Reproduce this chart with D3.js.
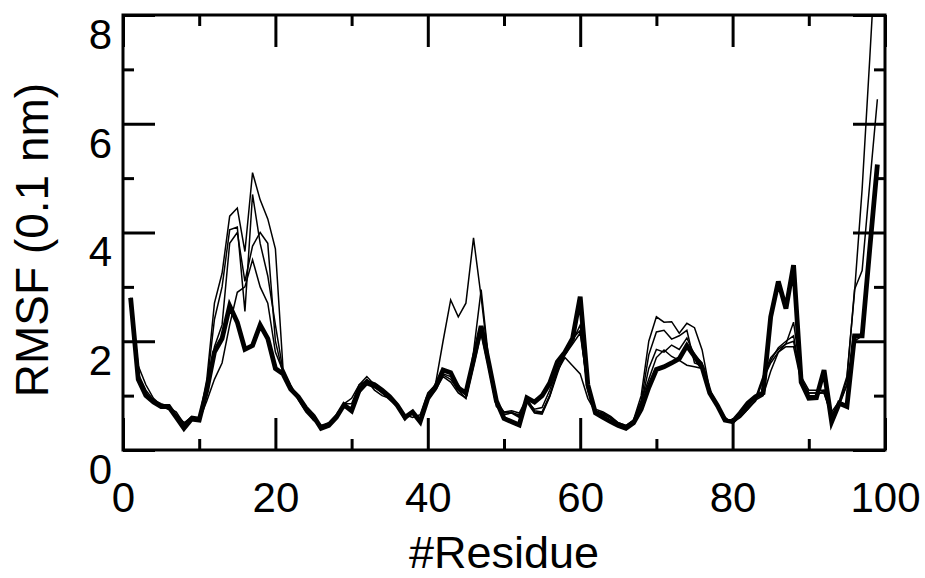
<!DOCTYPE html>
<html>
<head>
<meta charset="utf-8">
<script src="https://cdn.jsdelivr.net/npm/d3@7"></script>
<style>
  html, body { margin: 0; padding: 0; background: #fff; }
  svg { display: block; }
  text { font-family: "Liberation Sans", Arial, Helvetica, sans-serif; fill: #000; }
</style>
</head>
<body>
<svg id="chart" width="925" height="578"></svg>
<script>
// ---- data ----
const residues = d3.range(1, 100); // residue index 1..99 (category axis)

const rmsfMean = [2.8,1.3,1.0,0.88,0.8,0.8,0.6,0.4,0.57,0.55,
 1.1,1.8,2.05,2.65,2.35,1.85,1.92,2.3,2.05,1.5,
 1.4,1.12,0.98,0.77,0.62,0.4,0.45,0.6,0.83,0.72,
 1.1,1.25,1.2,1.1,0.98,0.82,0.6,0.7,0.52,0.95,
 1.15,1.47,1.42,1.14,1.05,1.65,2.28,1.6,0.9,0.58,
 0.52,0.46,0.96,0.88,1.0,1.23,1.62,1.8,2.05,2.82,
 1.2,0.68,0.6,0.52,0.45,0.4,0.5,0.75,1.15,1.48,
 1.53,1.6,1.68,1.92,1.72,1.52,1.05,0.82,0.55,0.52,
 0.68,0.86,0.98,1.05,2.45,3.1,2.6,3.4,1.25,0.95,
 0.96,1.47,0.52,0.86,0.8,2.1,2.1,3.7,5.25];

const rmsfRun1 = [2.8,1.55,1.2,0.95,0.82,0.75,0.65,0.5,0.6,0.58,
 1.3,2.7,3.25,4.3,4.45,3.65,5.1,4.6,4.25,3.7,
 1.5,1.2,0.95,0.75,0.55,0.45,0.5,0.65,0.85,0.95,
 1.2,1.35,1.2,1.05,0.95,0.8,0.65,0.6,0.65,1.05,
 1.2,2.0,2.76,2.45,2.7,3.9,2.81,1.6,0.9,0.7,
 0.72,0.68,0.95,0.72,0.7,1.0,1.45,1.7,1.55,1.4,
 0.95,0.7,0.65,0.6,0.5,0.45,0.55,1.0,2.0,2.45,
 2.35,2.36,2.15,2.33,2.25,1.84,1.1,0.85,0.55,0.55,
 0.6,0.75,0.92,1.0,1.45,1.8,1.95,2.35,1.35,1.1,
 1.1,1.1,0.7,0.9,1.35,2.9,4.8,7.2,9.7];

const rmsfRun2 = [2.75,1.35,1.05,0.9,0.8,0.78,0.7,0.48,0.62,0.6,
 1.2,2.4,3.0,4.05,4.1,2.55,4.7,3.8,3.2,2.3,
 1.45,1.15,0.95,0.72,0.6,0.45,0.47,0.62,0.8,0.78,
 1.15,1.3,1.15,1.05,0.92,0.8,0.55,0.72,0.55,1.0,
 1.2,1.4,1.35,1.2,1.0,1.8,2.95,1.65,0.85,0.68,
 0.7,0.62,0.9,0.75,0.78,1.1,1.5,1.8,2.0,2.3,
 1.1,0.72,0.68,0.6,0.48,0.42,0.5,0.9,1.75,2.17,
 2.2,2.04,2.1,2.2,1.6,1.55,1.05,0.85,0.6,0.5,
 0.62,0.78,0.9,1.3,1.65,1.88,2.0,2.1,1.3,1.05,
 1.05,1.05,0.65,0.85,1.3,2.95,3.3,4.9,6.45];

const rmsfRun3 = [2.7,1.4,1.1,0.92,0.85,0.8,0.62,0.45,0.58,0.58,
 1.1,1.9,2.3,3.8,4.0,3.1,3.75,4.0,3.8,2.0,
 1.4,1.1,1.0,0.8,0.6,0.42,0.45,0.6,0.8,0.75,
 1.05,1.2,1.15,1.1,1.0,0.85,0.6,0.68,0.5,0.92,
 1.12,1.38,1.3,1.1,0.95,1.6,2.2,1.55,0.85,0.65,
 0.68,0.6,0.92,0.7,0.68,1.0,1.45,1.75,1.95,2.15,
 1.15,0.7,0.66,0.58,0.46,0.42,0.52,0.85,1.5,1.85,
 1.8,1.93,1.85,2.06,1.75,1.6,1.1,0.8,0.58,0.52,
 0.65,0.8,0.95,1.35,1.7,1.85,1.95,2.0,1.3,1.0,
 1.0,1.1,0.6,0.85,1.2,2.05,2.15,3.65,5.15];

const rmsfRun4 = [2.75,1.3,1.05,0.9,0.8,0.75,0.65,0.5,0.55,0.55,
 0.9,1.3,1.6,2.3,2.9,3.0,3.5,3.0,2.7,1.8,
 1.45,1.15,0.92,0.7,0.55,0.43,0.5,0.65,0.85,0.85,
 1.2,1.28,1.1,1.0,0.95,0.82,0.6,0.7,0.55,0.95,
 1.1,1.35,1.25,1.05,0.95,1.55,2.15,1.5,0.8,0.7,
 0.68,0.65,0.88,0.68,0.66,0.98,1.4,1.8,2.05,2.2,
 1.1,0.75,0.7,0.62,0.5,0.45,0.55,0.9,1.3,1.7,
 1.84,1.72,1.65,1.56,1.53,1.5,1.05,0.8,0.55,0.5,
 0.6,0.75,0.9,1.3,1.6,1.8,1.9,1.9,1.25,1.05,
 1.05,1.05,0.62,0.82,1.2,2.0,2.1,3.55,5.1];

const xMajorTicks = [0, 20, 40, 60, 80, 100];
const xMinorTicks = [10, 30, 50, 70, 90];
const yMajorTicks = [0, 2, 4, 6, 8];
const yMinorTicks = [1, 3, 5, 7];
const xTitle = "#Residue";
const yTitle = "RMSF (0.1 nm)";

// ---- layout ----
const L = 123, R = 885, T = 15, B = 450;
const svg = d3.select("#chart");
const x = d3.scaleLinear().domain([0, 100]).range([L, R]);
const y = d3.scaleLinear().domain([0, 8]).range([B, T]);

svg.append("defs").append("clipPath").attr("id", "clip")
  .append("rect").attr("x", L).attr("y", T).attr("width", R - L).attr("height", B - T);

const line = d3.line().x((d, i) => x(residues[i])).y(d => y(d));

const plot = svg.append("g").attr("clip-path", "url(#clip)");
[rmsfRun1, rmsfRun2, rmsfRun3, rmsfRun4].forEach(s => {
  plot.append("path").datum(s).attr("d", line)
    .attr("fill", "none").attr("stroke", "#000").attr("stroke-width", 1.5)
    .attr("stroke-linejoin", "miter");
});
plot.append("path").datum(rmsfMean).attr("d", line)
  .attr("fill", "none").attr("stroke", "#000").attr("stroke-width", 4.8)
  .attr("stroke-linejoin", "miter");

// ---- axes ----
const FS = 42;
function styleAxis(g) {
  g.select(".domain").remove();
  g.selectAll(".tick line").attr("stroke", "#000").attr("stroke-width", 3);
}
// bottom
svg.append("g").attr("transform", `translate(0,${B})`)
  .call(d3.axisBottom(x).tickValues(xMajorTicks).tickSize(-32).tickPadding(32).tickFormat(d3.format("d")))
  .call(styleAxis)
  .call(g => g.selectAll("text").attr("font-size", FS).attr("font-family", "Liberation Sans, Arial, sans-serif"));
svg.append("g").attr("transform", `translate(0,${B})`)
  .call(d3.axisBottom(x).tickValues(xMinorTicks).tickSize(-11).tickFormat(""))
  .call(styleAxis);
// top
svg.append("g").attr("transform", `translate(0,${T})`)
  .call(d3.axisTop(x).tickValues(xMajorTicks).tickSize(-32).tickFormat(""))
  .call(styleAxis);
svg.append("g").attr("transform", `translate(0,${T})`)
  .call(d3.axisTop(x).tickValues(xMinorTicks).tickSize(-11).tickFormat(""))
  .call(styleAxis);
// left
svg.append("g").attr("transform", `translate(${L},0)`)
  .call(d3.axisLeft(y).tickValues(yMajorTicks).tickSize(-32).tickPadding(11).tickFormat(d3.format("d")))
  .call(styleAxis)
  .call(g => g.selectAll("text").attr("font-size", FS).attr("y", 20)
    .attr("font-family", "Liberation Sans, Arial, sans-serif"));
svg.append("g").attr("transform", `translate(${L},0)`)
  .call(d3.axisLeft(y).tickValues(yMinorTicks).tickSize(-11).tickFormat(""))
  .call(styleAxis);
// right
svg.append("g").attr("transform", `translate(${R},0)`)
  .call(d3.axisRight(y).tickValues(yMajorTicks).tickSize(-32).tickFormat(""))
  .call(styleAxis);
svg.append("g").attr("transform", `translate(${R},0)`)
  .call(d3.axisRight(y).tickValues(yMinorTicks).tickSize(-11).tickFormat(""))
  .call(styleAxis);

// frame
svg.append("rect").attr("x", L).attr("y", T).attr("width", R - L).attr("height", B - T)
  .attr("fill", "none").attr("stroke", "#000").attr("stroke-width", 3);

// titles
svg.append("text").attr("x", (L + R) / 2).attr("y", 568)
  .attr("text-anchor", "middle").attr("font-size", 45).text(xTitle);
svg.append("text").attr("transform", `translate(48,240) rotate(-90)`)
  .attr("text-anchor", "middle").attr("font-size", 46).text(yTitle);
</script>
</body>
</html>
